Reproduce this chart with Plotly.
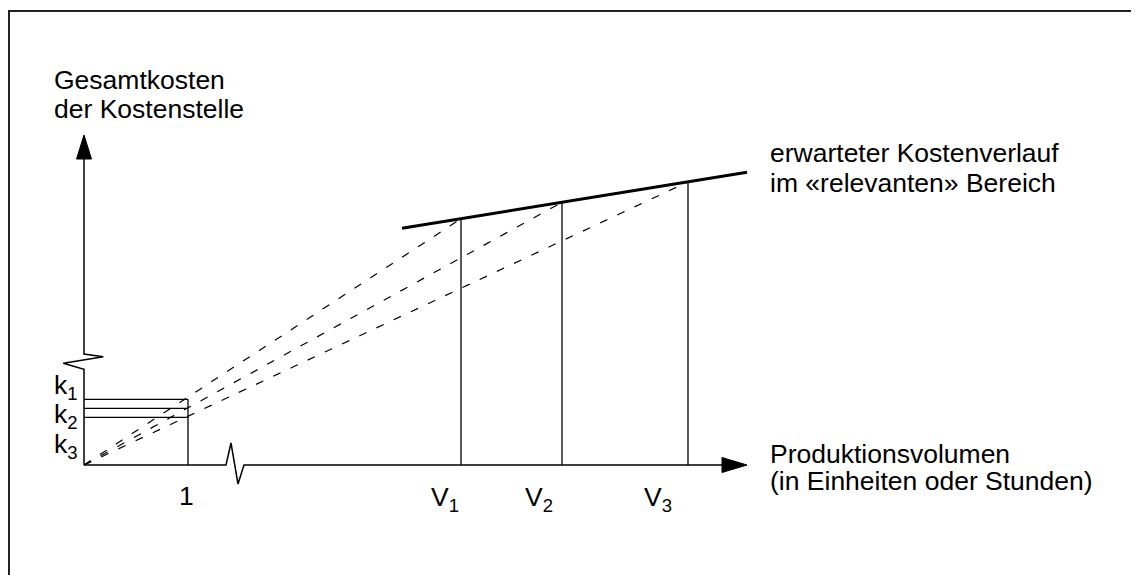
import plotly.graph_objects as go

# ---- data (schematic units: origin of the axes = 0,0) ----
volume_labels = ["V<sub>1</sub>", "V<sub>2</sub>", "V<sub>3</sub>"]
volumes = [377, 478, 604]                 # V1, V2, V3 on the volume axis
costs_at_volumes = [246.3, 262.7, 283.2]  # total cost at V1..V3
cost_line_x = [318, 663]                  # expected cost curve in relevant range
cost_line_y = [236.7, 292.7]
unit_volume = 104                         # position of "1" unit
unit_label = "1"
k_labels = ["k<sub>1</sub>", "k<sub>2</sub>", "k<sub>3</sub>"]
k_values = [65.7, 56.7, 47.7]             # cost per unit extrapolated to 1 unit

FONT = "Liberation Sans, Arial, sans-serif"
FS = 26.5
BLACK = "#000000"

# page has an 8px body margin; screen px -> data units
PAGE_OFF = 8
SX0, SY0 = 84, 465          # screen position of the axes origin
W, H = 1131, 567            # div size so it fits inside the window
DX0, DY0 = SX0 - PAGE_OFF, SY0 - PAGE_OFF

fig = go.Figure()

def add_line(x, y, width, dash=None):
    fig.add_trace(go.Scatter(x=x, y=y, mode="lines",
                             line=dict(color=BLACK, width=width, dash=dash),
                             hoverinfo="skip", showlegend=False))

# dashed extrapolation lines from origin to each (V, cost)
for v, c in zip(volumes, costs_at_volumes):
    add_line([0, v], [0, c], 1.2, "8px,11px")

# vertical lines at V
for v, c in zip(volumes, costs_at_volumes):
    add_line([v, v], [0, c], 1.3)

# k horizontal lines and unit vertical line
for k in k_values:
    add_line([0, unit_volume], [k, k], 1.3)
add_line([unit_volume, unit_volume], [0, max(k_values)], 1.3)

# expected cost line (thick)
add_line(cost_line_x, cost_line_y, 3)

# ---- axes drawn as shapes (with breaks and arrows) ----
shapes = []
line_style = dict(color=BLACK, width=1.5)
shapes.append(dict(type="path", xref="x", yref="y",
                   path="M 0,0 L 142,0 L 147,22 L 154,-19 L 160,0 L 640,0",
                   line=line_style))
shapes.append(dict(type="path", xref="x", yref="y",
                   path="M 638,7.5 L 663,0 L 638,-7.5 Z",
                   line=dict(color=BLACK, width=1), fillcolor=BLACK))
shapes.append(dict(type="path", xref="x", yref="y",
                   path="M 0,0 L 0,95.7 L -20.7,101.7 L 19.3,108.3 L 0,111 L 0,308",
                   line=line_style))
shapes.append(dict(type="path", xref="x", yref="y",
                   path="M -7.5,306 L 0,330 L 7.5,306 Z",
                   line=dict(color=BLACK, width=1), fillcolor=BLACK))
# outer frame
shapes.append(dict(type="rect", xref="x", yref="y",
                   x0=1 - DX0, y0=DY0 - 3, x1=W + 20, y1=DY0 - H - 20,
                   line=dict(color="#222222", width=2)))

# ---- text ----
def sx(px):
    return px - SX0

def sy(py):
    return SY0 - py

annotations = []
def add_text(text, x_px, center_py, xanchor="left", fs=FS):
    annotations.append(dict(text=text, x=sx(x_px), y=sy(center_py),
                            xref="x", yref="y", xanchor=xanchor, yanchor="middle",
                            showarrow=False, font=dict(family=FONT, size=fs, color=BLACK),
                            borderpad=0))

def plain_center(baseline):
    return baseline - 0.3465 * FS

def sub_center(baseline):
    return baseline - 0.2285 * FS

add_text("Gesamtkosten", 53, plain_center(89.5))
add_text("der Kostenstelle", 53, plain_center(118.5))
add_text("erwarteter Kostenverlauf", 769, plain_center(162))
add_text("im «relevanten» Bereich", 769, plain_center(192.5))
add_text("Produktionsvolumen", 769, plain_center(463.5))
add_text("(in Einheiten oder Stunden)", 769, plain_center(490.5))

add_text(unit_label, SX0 + unit_volume - 2, plain_center(505), xanchor="center")

v_label_left = [430, 524, 643]
for lab, lx in zip(volume_labels, v_label_left):
    add_text(lab, lx, sub_center(505))

k_baselines = [393, 422, 452]
for lab, b in zip(k_labels, k_baselines):
    add_text(lab, 52.5, sub_center(b))

fig.update_layout(
    width=W, height=H,
    margin=dict(l=0, r=0, t=0, b=0),
    paper_bgcolor="white", plot_bgcolor="white",
    xaxis=dict(range=[-DX0, W - DX0], visible=False, fixedrange=True),
    yaxis=dict(range=[DY0 - H, DY0], visible=False, fixedrange=True),
    shapes=shapes, annotations=annotations,
    showlegend=False,
)

fig.write_html("out.html")
